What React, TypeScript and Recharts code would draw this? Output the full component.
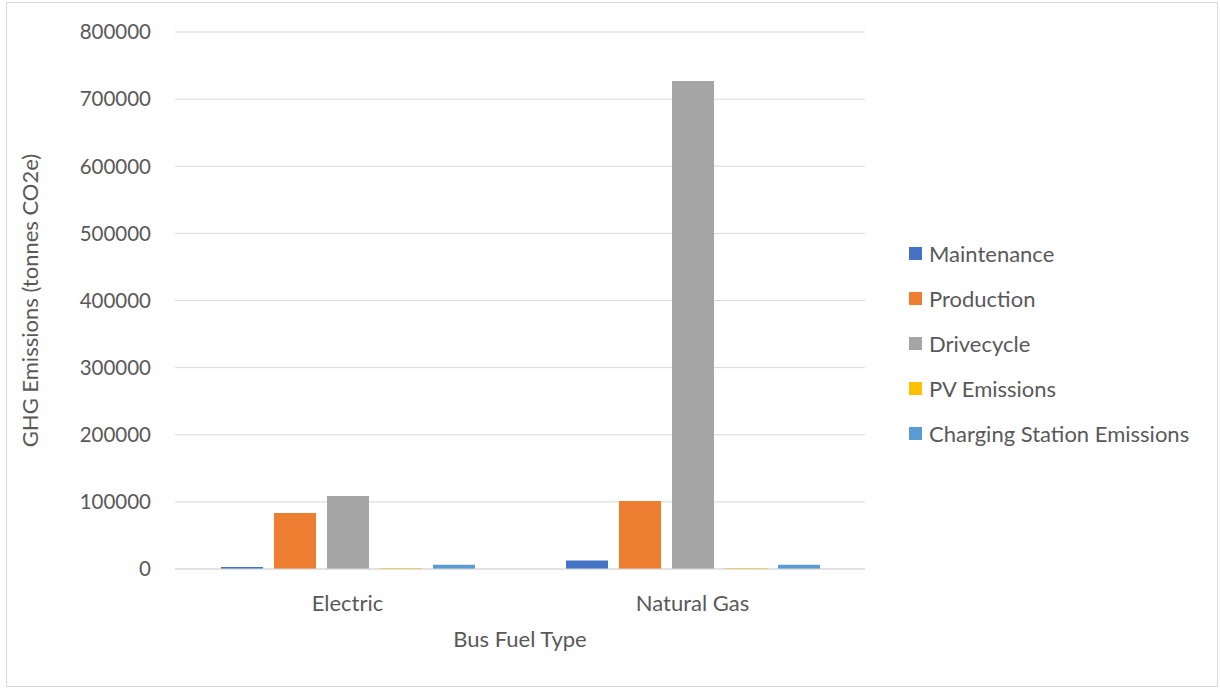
import { BarChart, Bar, XAxis, YAxis, CartesianGrid, Legend, Label } from 'recharts';

const fuelTypes = ['Electric', 'Natural Gas'];
const maintenance = [3000, 12700];
const production = [83500, 101300];
const drivecycle = [108800, 727000];
const pvEmissions = [1500, 1500];
const chargingStation = [6500, 6500];
const yTicks = [0, 100000, 200000, 300000, 400000, 500000, 600000, 700000, 800000];

const series = [
  { key: 'maintenance', name: 'Maintenance', color: '#4472c4', values: maintenance },
  { key: 'production', name: 'Production', color: '#ed7d31', values: production },
  { key: 'drivecycle', name: 'Drivecycle', color: '#a5a5a5', values: drivecycle },
  { key: 'pv', name: 'PV Emissions', color: '#ffc000', values: pvEmissions },
  { key: 'charging', name: 'Charging Station Emissions', color: '#5b9bd5', values: chargingStation },
];

const data = fuelTypes.map((fuel, i) => {
  const row: Record<string, string | number> = { fuel };
  series.forEach((s) => { row[s.key] = s.values[i]; });
  return row;
});

const font = 'Lato, "Open Sans", sans-serif';
const textColor = '#595959';

function LegendList() {
  return (
    <div style={{ fontFamily: font, fontSize: 22, color: textColor }}>
      {series.map((s) => (
        <div key={s.key} style={{ display: 'flex', alignItems: 'center', height: 45 }}>
          <span style={{ width: 13, height: 13, background: s.color, marginRight: 7, display: 'inline-block' }} />
          <span>{s.name}</span>
        </div>
      ))}
    </div>
  );
}

export default function App() {
  return (
    <div style={{ position: 'absolute', left: 0, top: 0, width: 1220, height: 688, background: '#fff' }}>
      <div style={{ position: 'absolute', left: 6, top: 2, width: 1210, height: 683, border: '1px solid #d9d9d9' }} />
      <BarChart
        width={1220}
        height={688}
        data={data}
        margin={{ top: 32, right: 355, bottom: 39, left: 0 }}
        barGap={11}
        barCategoryGap="13%"
      >
        <CartesianGrid vertical={false} stroke="#d9d9d9" />
        <XAxis
          dataKey="fuel"
          height={80}
          tickLine={false}
          tickSize={0}
          tickMargin={26}
          axisLine={{ stroke: '#d9d9d9' }}
          tick={{ fill: textColor, fontSize: 22, fontFamily: font }}
        >
          <Label value="Bus Fuel Type" position="insideBottom" offset={2} fill={textColor} fontSize={22} fontFamily={font} />
        </XAxis>
        <YAxis
          width={175}
          domain={[0, 800000]}
          ticks={yTicks}
          interval={0}
          tickLine={false}
          axisLine={false}
          tickSize={0}
          tickMargin={24}
          tick={{ fill: textColor, fontSize: 20.5, fontFamily: font }}
        >
          <Label value="GHG Emissions (tonnes CO2e)" angle={-90} position="insideLeft" offset={30} style={{ textAnchor: 'middle' }} fill={textColor} fontSize={22} fontFamily={font} />
        </YAxis>
        <Legend
          layout="vertical"
          align="center"
          verticalAlign="middle"
          wrapperStyle={{ left: 909, top: 231, width: 300 }}
          content={() => <LegendList />}
        />
        {series.map((s) => (
          <Bar key={s.key} dataKey={s.key} name={s.name} fill={s.color} barSize={42} isAnimationActive={false} />
        ))}
      </BarChart>
    </div>
  );
}
